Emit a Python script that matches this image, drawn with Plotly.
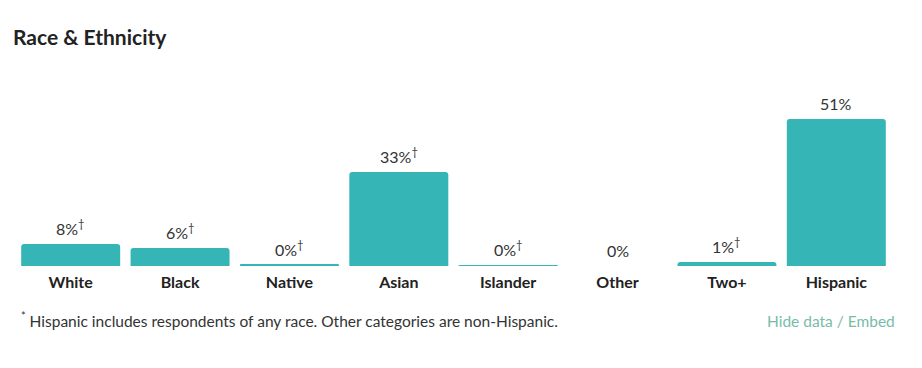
import plotly.graph_objects as go

categories = ["White", "Black", "Native", "Asian", "Islander", "Other", "Two+", "Hispanic"]
values = [7.6, 6.2, 0.4, 32.6, 0.3, 0.0, 1.4, 51.0]
labels = ["8%<sup>†</sup>", "6%<sup>†</sup>", "0%<sup>†</sup>", "33%<sup>†</sup>",
          "0%<sup>†</sup>", "0%", "1%<sup>†</sup>", "51%"]

BAR = "#35b5b5"
TEXT = "#333333"
FONT = "Lato"

# page body has an 8px margin; figure coordinates are offset accordingly
W, H = 914, 360
L, R, T, B = 8, 31, 72, 102
PW, PH = W - L - R, H - T - B

fig = go.Figure(go.Bar(
    x=categories, y=values, marker=dict(color=BAR, line=dict(width=0)),
    hoverinfo="skip",
))

for c, v, t in zip(categories, values, labels):
    fig.add_annotation(x=c, y=v, text=t, showarrow=False, yanchor="bottom",
                       yshift=4, font=dict(family=FONT, size=16, color=TEXT))

fig.add_annotation(xref="paper", yref="paper",
                   x=(3 - L) / PW, y=1 + (T - 28) / PH,
                   xanchor="left", yanchor="middle", showarrow=False,
                   text="<b>Race &amp; Ethnicity</b>",
                   font=dict(family=FONT, size=21, color="#222222"))
fig.add_annotation(xref="paper", yref="paper",
                   x=(11 - L) / PW, y=-(311 - (H - B)) / PH,
                   xanchor="left", yanchor="middle", showarrow=False,
                   text="<sup>*</sup> Hispanic includes respondents of any race. Other categories are non-Hispanic.",
                   font=dict(family=FONT, size=15.5, color=TEXT))
fig.add_annotation(xref="paper", yref="paper",
                   x=(889 - L) / PW, y=-(313 - (H - B)) / PH,
                   xanchor="right", yanchor="middle", showarrow=False,
                   text="Hide data / Embed",
                   font=dict(family=FONT, size=15.5, color="#78bba9"))

fig.update_layout(
    width=W, height=H,
    margin=dict(l=L, r=R, t=T, b=B),
    paper_bgcolor="white", plot_bgcolor="white",
    bargap=0.095,
    barcornerradius=3,
    showlegend=False,
    font=dict(family=FONT, color=TEXT),
    xaxis=dict(tickmode="array", tickvals=categories,
               ticktext=[f"<b>{c}</b>" for c in categories],
               tickfont=dict(family=FONT, size=16, color="#222222"),
               ticklabelstandoff=5,
               showline=False, showgrid=False, zeroline=False, ticks="",
               fixedrange=True),
    yaxis=dict(range=[0, 64.5], visible=False, fixedrange=True),
)

fig.write_html("out.html")
